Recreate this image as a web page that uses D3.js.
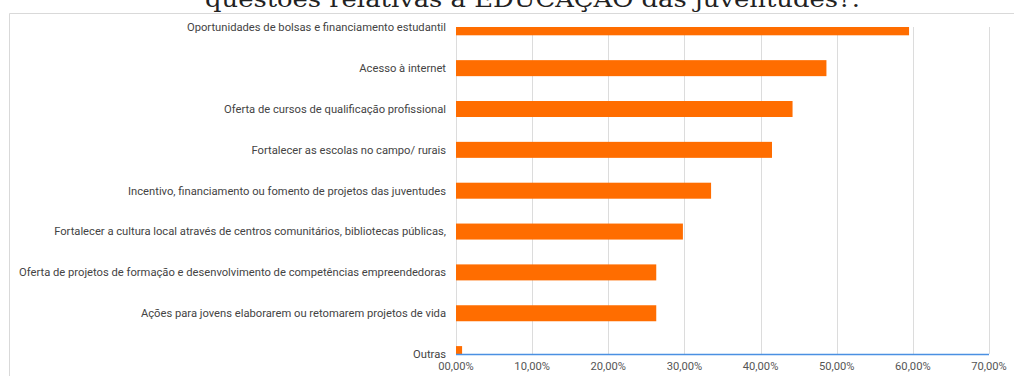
<!DOCTYPE html>
<html>
<head>
<meta charset="utf-8">
<script src="https://cdn.jsdelivr.net/npm/d3@7"></script>
<style>
  html, body { margin: 0; padding: 0; background: #fff; }
  svg { display: block; }
</style>
</head>
<body>
<div id="chart"></div>
<script>
// Categories, top to bottom
const categories = [
    "Oportunidades de bolsas e financiamento estudantil",
    "Acesso à internet",
    "Oferta de cursos de qualificação profissional",
    "Fortalecer as escolas no campo/ rurais",
    "Incentivo, financiamento ou fomento de projetos das juventudes",
    "Fortalecer a cultura local através de centros comunitários, bibliotecas públicas,",
    "Oferta de projetos de formação e desenvolvimento de competências empreendedoras",
    "Ações para jovens elaborarem ou retomarem projetos de vida",
    "Outras"
];

// Share of answers (fraction)
const values = [0.595, 0.4865, 0.442, 0.415, 0.335, 0.298, 0.263, 0.263, 0.008];

const xTicks = [0, 0.1, 0.2, 0.3, 0.4, 0.5, 0.6, 0.7];
const tickLabels = ["00,00%", "10,00%", "20,00%", "30,00%", "40,00%", "50,00%", "60,00%", "70,00%"];

const titleText = "questões relativas à EDUCAÇÃO das juventudes?.";

const width = 1014, height = 376;
const plot = { left: 456, right: 989, top: 27, bottom: 354 };

const svg = d3.select("#chart").append("svg")
    .attr("width", width)
    .attr("height", height);

// Title (cut off at the top in the original)
svg.append("text")
    .attr("x", 205)
    .attr("y", 7)
    .attr("textLength", 655)
    .attr("lengthAdjust", "spacingAndGlyphs")
    .attr("font-family", "'DejaVu Serif', serif")
    .attr("font-size", 23)
    .attr("fill", "#222")
    .text(titleText);

// Chart frame
svg.append("path")
    .attr("d", `M9.5,${height} V13.5 H${width}`)
    .attr("fill", "none")
    .attr("stroke", "#d9d9d9")
    .attr("stroke-width", 1);

const xScale = d3.scaleLinear()
    .domain([0, 0.7])
    .range([plot.left, plot.right]);

const yScale = d3.scalePoint()
    .domain(categories)
    .range([27.3, 354.1]);

const barHeight = 16;

// Gridlines
svg.append("g")
    .selectAll("line")
    .data(xTicks)
    .enter().append("line")
    .attr("x1", d => Math.round(xScale(d)) + 0.5)
    .attr("x2", d => Math.round(xScale(d)) + 0.5)
    .attr("y1", plot.top)
    .attr("y2", plot.bottom)
    .attr("stroke", "#dcdcdc")
    .attr("stroke-width", 1);

// Clip the bars to the plot area
svg.append("clipPath")
    .attr("id", "plotClip")
    .append("rect")
    .attr("x", plot.left)
    .attr("y", plot.top)
    .attr("width", plot.right - plot.left)
    .attr("height", plot.bottom - plot.top);

svg.append("g")
    .attr("clip-path", "url(#plotClip)")
    .selectAll("rect")
    .data(categories)
    .enter().append("rect")
    .attr("x", xScale(0))
    .attr("y", d => yScale(d) - barHeight / 2)
    .attr("width", (d, i) => xScale(values[i]) - xScale(0))
    .attr("height", barHeight)
    .attr("fill", "#ff6d00");

// Axis baseline
svg.append("line")
    .attr("x1", plot.left)
    .attr("x2", plot.right)
    .attr("y1", plot.bottom + 0.5)
    .attr("y2", plot.bottom + 0.5)
    .attr("stroke", "#4a90e2")
    .attr("stroke-width", 1.5);

// Category labels
svg.append("g")
    .selectAll("text")
    .data(categories)
    .enter().append("text")
    .attr("x", 446)
    .attr("y", d => yScale(d))
    .attr("dy", "0.35em")
    .attr("text-anchor", "end")
    .attr("font-family", "Roboto, Arial, sans-serif")
    .attr("font-size", 11.2)
    .attr("fill", "#444")
    .text(d => d);

// Tick labels
svg.append("g")
    .selectAll("text")
    .data(xTicks)
    .enter().append("text")
    .attr("x", d => xScale(d))
    .attr("y", 370)
    .attr("text-anchor", "middle")
    .attr("font-family", "Roboto, Arial, sans-serif")
    .attr("font-size", 11.2)
    .attr("fill", "#555")
    .text((d, i) => tickLabels[i]);
</script>
</body>
</html>
